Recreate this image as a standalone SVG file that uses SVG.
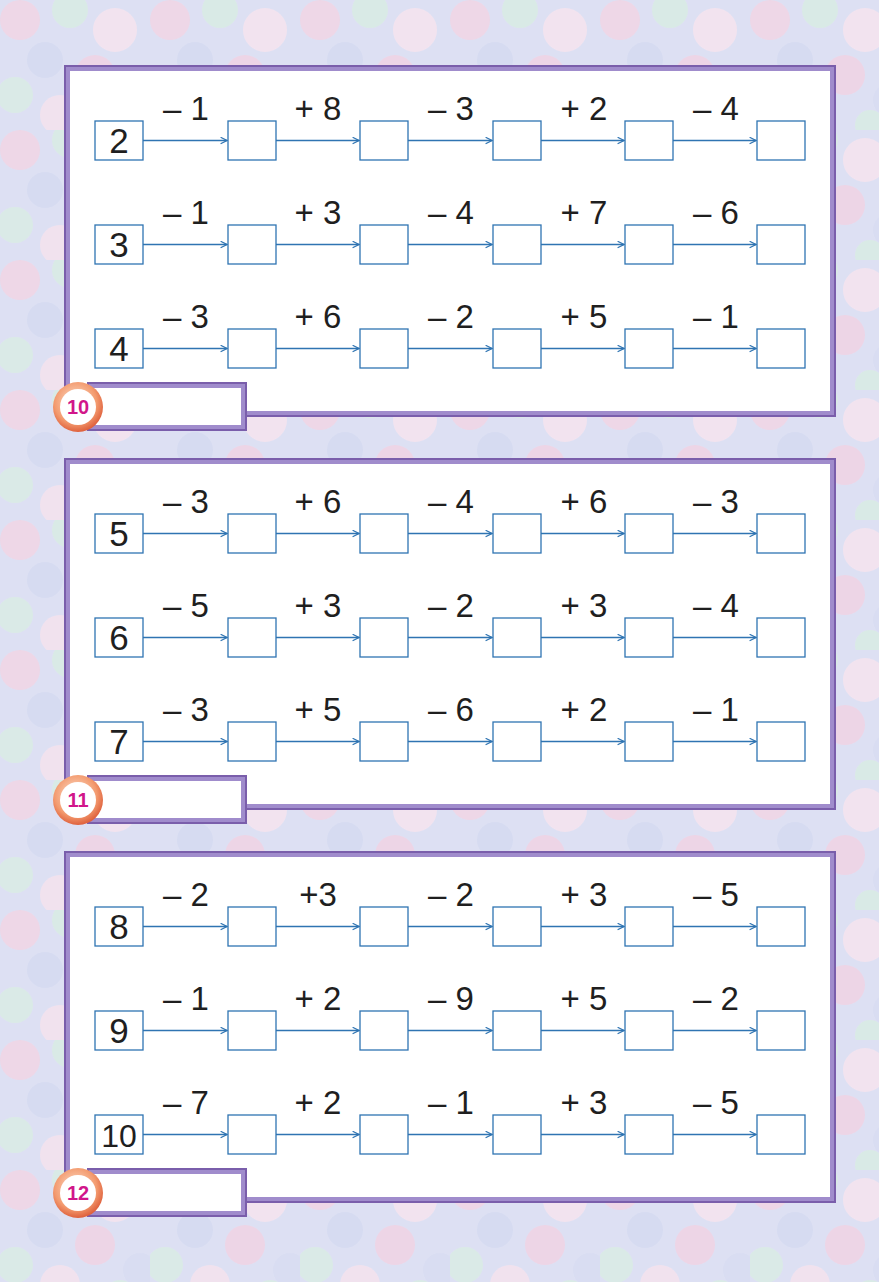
<svg xmlns="http://www.w3.org/2000/svg" width="879" height="1282" viewBox="0 0 879 1282">
<defs>
<pattern id="bg" x="0" y="0" width="150" height="130" patternUnits="userSpaceOnUse">
<rect width="150" height="130" fill="#dde0f3"/>
<g opacity="0.75">
<circle cx="20" cy="20" r="20" fill="#f4d4e3"/>
<circle cx="70" cy="10" r="18" fill="#d9eee2"/>
<circle cx="115" cy="30" r="22" fill="#fae5ee"/>
<circle cx="45" cy="60" r="18" fill="#d4daf1"/>
<circle cx="95" cy="75" r="20" fill="#f3d2e2"/>
<circle cx="15" cy="95" r="18" fill="#daeee3"/>
<circle cx="140" cy="100" r="17" fill="#d8dcf2"/>
<circle cx="60" cy="115" r="20" fill="#f9e3ed"/>
<circle cx="120" cy="125" r="15" fill="#d9eee2"/>
</g>
</pattern>
<radialGradient id="ring" cx="0.45" cy="0.4" r="0.65">
<stop offset="0" stop-color="#fde2cf"/>
<stop offset="0.65" stop-color="#f39a6e"/>
<stop offset="1" stop-color="#d9512f"/>
</radialGradient>
<marker id="ah" viewBox="0 0 10 10" refX="9" refY="5" markerWidth="8" markerHeight="8" markerUnits="userSpaceOnUse" orient="auto">
<path d="M1,1 L9,5 L1,9" fill="none" stroke="#2f74b2" stroke-width="1.6"/>
</marker>
<style>
.frame-o{fill:#7a5eab}
.frame-m{fill:#a08ccc}
.frame-i{fill:#ffffff}
.box{fill:#ffffff;stroke:#2f74b2;stroke-width:1.3}
.op{font-family:"Liberation Sans",Arial,sans-serif;font-size:33px;fill:#1f1f1f;text-anchor:middle}
.num{font-family:"Liberation Sans",Arial,sans-serif;font-size:35px;fill:#1f1f1f;text-anchor:middle}
.badge{font-family:"Liberation Sans",Arial,sans-serif;font-size:20px;font-weight:bold;fill:#d1168a;text-anchor:middle}
.conn line{stroke:#2f74b2;stroke-width:1.3;marker-end:url(#ah)}
</style>
<g id="boxrow">
<rect class="box" x="228" y="0" width="48" height="39"/>
<rect class="box" x="360" y="0" width="48" height="39"/>
<rect class="box" x="493" y="0" width="48" height="39"/>
<rect class="box" x="625" y="0" width="48" height="39"/>
<rect class="box" x="757" y="0" width="48" height="39"/>
<rect class="box" x="95" y="0" width="48" height="39"/>
</g>
<g id="arrows" class="conn">
<line x1="143" y1="19.5" x2="227" y2="19.5"/>
<line x1="276" y1="19.5" x2="359" y2="19.5"/>
<line x1="408" y1="19.5" x2="492" y2="19.5"/>
<line x1="541" y1="19.5" x2="624" y2="19.5"/>
<line x1="673" y1="19.5" x2="756" y2="19.5"/>
</g>
</defs>
<rect width="879" height="1282" fill="url(#bg)"/>

<!-- Panel 1 -->
<g id="panel1">
<rect class="frame-o" x="64" y="65" width="772" height="352"/>
<rect class="frame-m" x="66" y="67" width="768" height="348"/>
<rect class="frame-i" x="70" y="71" width="760" height="340"/>
<rect class="frame-o" x="87" y="382" width="160" height="49"/>
<rect class="frame-m" x="89" y="384" width="156" height="45"/>
<rect class="frame-i" x="93" y="388" width="148" height="37"/>
<circle cx="78" cy="407" r="25" fill="url(#ring)"/>
<circle cx="78" cy="407" r="18" fill="#ffffff"/>
<text class="badge" x="78" y="414">10</text>
</g>
<g id="p1r1"><use href="#boxrow" y="121"/><text class="num" x="119" y="153">2</text>
<text class="op" x="186" y="120">– 1</text><text class="op" x="318" y="120">+ 8</text><text class="op" x="451" y="120">– 3</text><text class="op" x="584" y="120">+ 2</text><text class="op" x="716" y="120">– 4</text></g>
<g id="p1r2"><use href="#boxrow" y="225"/><text class="num" x="119" y="257">3</text>
<text class="op" x="186" y="224">– 1</text><text class="op" x="318" y="224">+ 3</text><text class="op" x="451" y="224">– 4</text><text class="op" x="584" y="224">+ 7</text><text class="op" x="716" y="224">– 6</text></g>
<g id="p1r3"><use href="#boxrow" y="329"/><text class="num" x="119" y="361">4</text>
<text class="op" x="186" y="328">– 3</text><text class="op" x="318" y="328">+ 6</text><text class="op" x="451" y="328">– 2</text><text class="op" x="584" y="328">+ 5</text><text class="op" x="716" y="328">– 1</text></g>

<!-- Panel 2 -->
<g id="panel2">
<rect class="frame-o" x="64" y="458" width="772" height="352"/>
<rect class="frame-m" x="66" y="460" width="768" height="348"/>
<rect class="frame-i" x="70" y="464" width="760" height="340"/>
<rect class="frame-o" x="87" y="775" width="160" height="49"/>
<rect class="frame-m" x="89" y="777" width="156" height="45"/>
<rect class="frame-i" x="93" y="781" width="148" height="37"/>
<circle cx="78" cy="800" r="25" fill="url(#ring)"/>
<circle cx="78" cy="800" r="18" fill="#ffffff"/>
<text class="badge" x="78" y="807">11</text>
</g>
<g id="p2r1"><use href="#boxrow" y="514"/><text class="num" x="119" y="546">5</text>
<text class="op" x="186" y="513">– 3</text><text class="op" x="318" y="513">+ 6</text><text class="op" x="451" y="513">– 4</text><text class="op" x="584" y="513">+ 6</text><text class="op" x="716" y="513">– 3</text></g>
<g id="p2r2"><use href="#boxrow" y="618"/><text class="num" x="119" y="650">6</text>
<text class="op" x="186" y="617">– 5</text><text class="op" x="318" y="617">+ 3</text><text class="op" x="451" y="617">– 2</text><text class="op" x="584" y="617">+ 3</text><text class="op" x="716" y="617">– 4</text></g>
<g id="p2r3"><use href="#boxrow" y="722"/><text class="num" x="119" y="754">7</text>
<text class="op" x="186" y="721">– 3</text><text class="op" x="318" y="721">+ 5</text><text class="op" x="451" y="721">– 6</text><text class="op" x="584" y="721">+ 2</text><text class="op" x="716" y="721">– 1</text></g>

<!-- Panel 3 -->
<g id="panel3">
<rect class="frame-o" x="64" y="851" width="772" height="352"/>
<rect class="frame-m" x="66" y="853" width="768" height="348"/>
<rect class="frame-i" x="70" y="857" width="760" height="340"/>
<rect class="frame-o" x="87" y="1168" width="160" height="49"/>
<rect class="frame-m" x="89" y="1170" width="156" height="45"/>
<rect class="frame-i" x="93" y="1174" width="148" height="37"/>
<circle cx="78" cy="1193" r="25" fill="url(#ring)"/>
<circle cx="78" cy="1193" r="18" fill="#ffffff"/>
<text class="badge" x="78" y="1200">12</text>
</g>
<g id="p3r1"><use href="#boxrow" y="907"/><text class="num" x="119" y="939">8</text>
<text class="op" x="186" y="906">– 2</text><text class="op" x="318" y="906">+3</text><text class="op" x="451" y="906">– 2</text><text class="op" x="584" y="906">+ 3</text><text class="op" x="716" y="906">– 5</text></g>
<g id="p3r2"><use href="#boxrow" y="1011"/><text class="num" x="119" y="1043">9</text>
<text class="op" x="186" y="1010">– 1</text><text class="op" x="318" y="1010">+ 2</text><text class="op" x="451" y="1010">– 9</text><text class="op" x="584" y="1010">+ 5</text><text class="op" x="716" y="1010">– 2</text></g>
<g id="p3r3"><use href="#boxrow" y="1115"/><text class="num" x="119" y="1147" style="font-size:32px">10</text>
<text class="op" x="186" y="1114">– 7</text><text class="op" x="318" y="1114">+ 2</text><text class="op" x="451" y="1114">– 1</text><text class="op" x="584" y="1114">+ 3</text><text class="op" x="716" y="1114">– 5</text></g>

<g id="connectors">
<use href="#arrows" y="121"/><use href="#arrows" y="225"/><use href="#arrows" y="329"/>
<use href="#arrows" y="514"/><use href="#arrows" y="618"/><use href="#arrows" y="722"/>
<use href="#arrows" y="907"/><use href="#arrows" y="1011"/><use href="#arrows" y="1115"/>
</g>
</svg>
